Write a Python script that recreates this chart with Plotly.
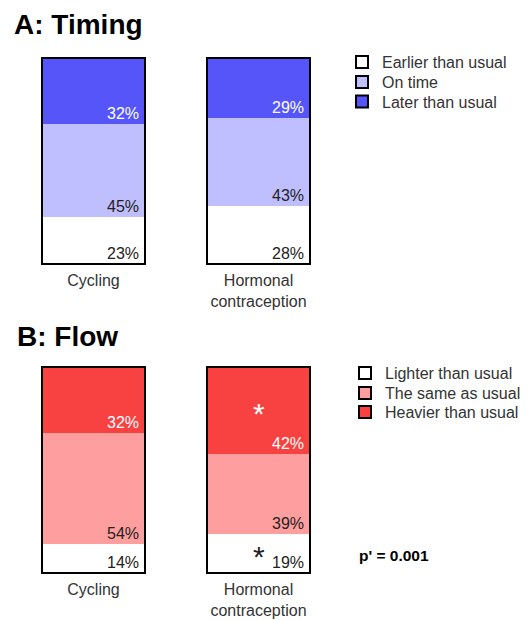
import plotly.graph_objects as go

# ---------------- data ----------------
categories = ["Cycling", "Hormonal<br>contraception"]

timing_series = ["Earlier than usual", "On time", "Later than usual"]
timing_earlier = [23, 28]
timing_ontime = [45, 43]
timing_later = [32, 29]

flow_series = ["Lighter than usual", "The same as usual", "Heavier than usual"]
flow_lighter = [14, 19]
flow_same = [54, 39]
flow_heavier = [32, 42]

# significance flags per series (hormonal vs cycling)
flow_sig_lighter = [False, True]
flow_sig_same = [False, False]
flow_sig_heavier = [False, True]

p_text = "p' = 0.001"

# ---------------- styles / layout ----------------
OFF = 8                      # page body margin of the browser
WIN_W, WIN_H = 529, 620
W, H = WIN_W - OFF, WIN_H - OFF
FONT = "Liberation Sans, Arial, sans-serif"
timing_colors = ["#ffffff", "#bfbfff", "#5555fa"]
flow_colors = ["#ffffff", "#ff9e9e", "#f84141"]
label_colors = ["#222222", "#222222", "#ffffff"]

def fx(px):
    return (px - OFF) / W

def fy(py):
    return 1 - (py - OFF) / H

PAD = 1.5
UNIT_A = (264 - 58) / 100
UNIT_B = (573 - 367) / 100
x_dom = [fx(11), fx(341)]
yA_dom = [fy(264 + PAD * UNIT_A), fy(58 - PAD * UNIT_A)]
yB_dom = [fy(573 + PAD * UNIT_B), fy(367 - PAD * UNIT_B)]

fig = go.Figure()

def add_panel(series_names, values, colors, xa, ya, xo, yo, legend_names, sig=None):
    annotations = []
    n = len(categories)
    bases = [0] * n
    for k, (name, vals, col) in enumerate(zip(series_names, values, colors)):
        fig.add_trace(go.Bar(
            x=categories, y=vals, name=name, marker=dict(color=col, line=dict(width=0)),
            width=0.624, xaxis=xa, yaxis=ya, showlegend=False, hoverinfo="skip"))
        # legend-only entry
        fig.add_trace(go.Bar(
            x=[None], y=[None], name=name,
            marker=dict(color=col, line=dict(color="black", width=2)),
            xaxis=xa, yaxis=ya, showlegend=True, legend=legend_names[k]))
        for i in range(n):
            annotations.append(dict(
                x=categories[i], y=bases[i], xref=xa, yref=ya,
                text=f"{vals[i]}%", showarrow=False, xanchor="right", yanchor="bottom",
                xshift=47, yshift=0,
                font=dict(family=FONT, size=16, color=label_colors[k])))
            if sig is not None and sig[k][i]:
                annotations.append(dict(
                    x=categories[i], y=bases[i] + vals[i] / 2, xref=xa, yref=ya,
                    text="*", showarrow=False, xanchor="center", yanchor="middle",
                    yshift=-3,
                    font=dict(family=FONT, size=30, color=label_colors[k])))
        bases = [b + v for b, v in zip(bases, vals)]
    # outline bar
    fig.add_trace(go.Bar(
        x=categories, y=bases, marker=dict(color="rgba(0,0,0,0)", line=dict(color="black", width=2.2)),
        width=0.624, xaxis=xo, yaxis=yo, showlegend=False, hoverinfo="skip"))
    return annotations

ann = []
ann += add_panel(timing_series, [timing_earlier, timing_ontime, timing_later], timing_colors,
                 "x", "y", "x3", "y3", ["legend", "legend2", "legend3"])
ann += add_panel(flow_series, [flow_lighter, flow_same, flow_heavier], flow_colors,
                 "x2", "y2", "x4", "y4", ["legend4", "legend5", "legend6"],
                 sig=[flow_sig_lighter, flow_sig_same, flow_sig_heavier])

ann.append(dict(text="<b>A: Timing</b>", x=fx(13), y=fy(8), xref="paper", yref="paper",
                xanchor="left", yanchor="top", showarrow=False, borderpad=0,
                font=dict(family=FONT, size=28, color="black")))
ann.append(dict(text="<b>B: Flow</b>", x=fx(15), y=fy(319), xref="paper", yref="paper",
                xanchor="left", yanchor="top", showarrow=False,
                font=dict(family=FONT, size=28, color="black")))
ann.append(dict(text=f"<b>{p_text}</b>", x=fx(357), y=fy(555), xref="paper", yref="paper",
                xanchor="left", yanchor="middle", showarrow=False,
                font=dict(family=FONT, size=15.5, color="black")))

yr = [-PAD, 100 + PAD]
xr = [-0.5, 1.5]
xax = dict(domain=x_dom, range=xr, showgrid=False, zeroline=False, showline=False, ticks="",
           tickfont=dict(family=FONT, size=16, color="#333333"), ticklabelstandoff=2,
           type="category")
yax = dict(range=yr, visible=False, showgrid=False, zeroline=False)

leg_common = dict(font=dict(family=FONT, size=16, color="#333333"), bgcolor="rgba(0,0,0,0)",
                  xanchor="left", yanchor="middle", traceorder="normal")
legends = {}
rowsA = [62, 82, 101.5]
rowsB = [373, 393, 412]
for j, yy in enumerate(rowsA):
    key = "legend" if j == 0 else f"legend{j + 1}"
    legends[key] = dict(leg_common, x=fx(342), y=fy(yy))
for j, yy in enumerate(rowsB):
    legends[f"legend{j + 4}"] = dict(leg_common, x=fx(345), y=fy(yy))

fig.update_layout(
    width=W, height=H, margin=dict(l=0, r=0, t=0, b=0),
    paper_bgcolor="white", plot_bgcolor="white",
    barmode="stack", bargap=0,
    xaxis=dict(xax, anchor="y"),
    yaxis=dict(yax, domain=yA_dom, anchor="x"),
    xaxis2=dict(xax, anchor="y2"),
    yaxis2=dict(yax, domain=yB_dom, anchor="x2"),
    xaxis3=dict(xax, overlaying="x", anchor="y3", visible=False),
    yaxis3=dict(yax, overlaying="y", anchor="x3"),
    xaxis4=dict(xax, overlaying="x2", anchor="y4", visible=False),
    yaxis4=dict(yax, overlaying="y2", anchor="x4"),
    annotations=ann,
    **legends,
)

fig.write_html("out.html")
